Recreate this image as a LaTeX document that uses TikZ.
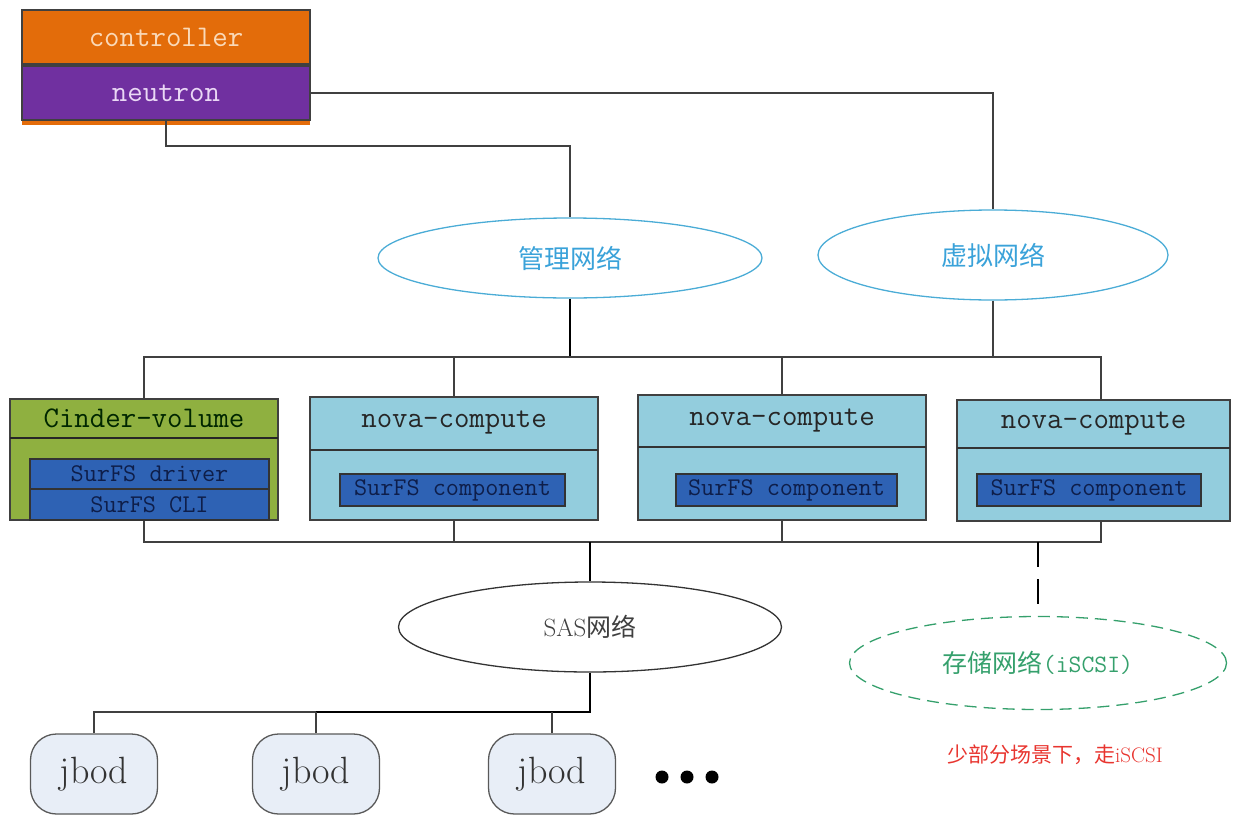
\documentclass[tikz,border=0pt]{standalone}
\usepackage{fontspec}
\newfontfamily\cjk{Noto Sans CJK SC}
\usetikzlibrary{shapes.geometric}

\definecolor{ctrlorange}{HTML}{E36C0A}
\definecolor{ctrltext}{HTML}{FAD9B8}
\definecolor{neupurple}{HTML}{7030A0}
\definecolor{neutext}{HTML}{EAD8F5}
\definecolor{cindergreen}{HTML}{8FB040}
\definecolor{novablue}{HTML}{93CDDD}
\definecolor{surfsblue}{HTML}{2E62B4}
\definecolor{surfstext}{HTML}{0E1E4A}
\definecolor{netline}{HTML}{4BACD6}
\definecolor{nettext}{HTML}{3AA2D9}
\definecolor{iscsigreen}{HTML}{35A06C}
\definecolor{notered}{HTML}{E8352F}
\definecolor{jbodfill}{HTML}{E8EEF7}

\begin{document}
\begin{tikzpicture}[x=1pt,y=-1pt,
    link/.style={draw=black!75,line width=1.5pt},
    trunk/.style={draw=black,line width=2.6pt},
    hostbox/.style={rectangle,draw=black!75,line width=1.3pt,inner sep=0pt},
    headtext/.style={font=\fontsize{30}{30}\selectfont\ttfamily},
    surfs/.style={rectangle,draw=black!80,line width=1.2pt,fill=surfsblue,inner sep=0pt,
        text=surfstext,font=\fontsize{25.5}{26}\selectfont\ttfamily},
    net/.style={ellipse,draw=netline,line width=1.3pt,inner sep=0pt,text=nettext,
        font=\fontsize{26}{26}\selectfont\cjk},
    jbod/.style={rectangle,rounded corners=26pt,draw=black!65,line width=1.3pt,fill=jbodfill,
        minimum width=127,minimum height=80,inner sep=0pt,text=black!80,
        font=\fontsize{38}{38}\selectfont}]
\useasboundingbox (0,0) rectangle (1233,816);

% controller / neutron
\fill[ctrlorange] (22,112) rectangle (310,125);
\node[hostbox,fill=ctrlorange,minimum width=288,minimum height=54,text=ctrltext,headtext] (ctrl) at (166,37) {controller};
\node[hostbox,fill=neupurple,minimum width=288,minimum height=54,text=neutext,headtext] (neu) at (166,93) {neutron};

% networks
\node[net,minimum width=384,minimum height=80] (mgmt) at (570,258) {管理网络};
\node[net,minimum width=350,minimum height=90] (virt) at (993,255) {虚拟网络};

% cinder-volume
\node[hostbox,fill=cindergreen,minimum width=268,minimum height=121] (cinder) at (144,459.5) {};
\draw[black!85,line width=1.3pt] (10,438) -- (278,438);
\node[headtext,text=black!85!green] (cindertitle) at (144,418) {Cinder-volume};
\node[surfs,minimum width=239,minimum height=30] (drv) at (149.5,474) {SurFS driver};
\node[surfs,minimum width=239,minimum height=31] (cli) at (149.5,504.5) {SurFS CLI};

% nova-compute hosts
\node[hostbox,fill=novablue,minimum width=288,minimum height=123] (nova1) at (454,458.5) {};
\draw[black!80,line width=1.3pt] (310,450) -- (598,450);
\node[headtext,text=black!85] (nova1title) at (454,423) {nova-compute};
\node[surfs,minimum width=225,minimum height=32] (comp1) at (452.5,490) {SurFS component};

\node[hostbox,fill=novablue,minimum width=288,minimum height=125] (nova2) at (782,457.5) {};
\draw[black!80,line width=1.3pt] (638,447) -- (926,447);
\node[headtext,text=black!85] (nova2title) at (782,421) {nova-compute};
\node[surfs,minimum width=221,minimum height=32] (comp2) at (786.5,490) {SurFS component};

\node[hostbox,fill=novablue,minimum width=273,minimum height=121] (nova3) at (1093.5,460.5) {};
\draw[black!80,line width=1.3pt] (957,448) -- (1230,448);
\node[headtext,text=black!85] (nova3title) at (1093.5,424) {nova-compute};
\node[surfs,minimum width=224,minimum height=32] (comp3) at (1089,490) {SurFS component};

% storage networks
\node[ellipse,draw=black!80,line width=1.3pt,inner sep=0pt,minimum width=383,minimum height=90,
    text=black!75,font=\fontsize{25}{25}\selectfont] (sas) at (590,627) {SAS{\cjk 网络}};
\node[ellipse,draw=iscsigreen,dashed,dash pattern=on 12pt off 7pt,line width=1.3pt,inner sep=0pt,
    minimum width=377,minimum height=93,text=iscsigreen,font=\fontsize{25}{25}\selectfont\cjk] (iscsi) at (1038,663) {存储网络{\ttfamily(iSCSI)}};
\node[text=notered,font=\fontsize{21}{21}\selectfont\cjk] (note) at (1055,755) {少部分场景下，走{\rmfamily iSCSI}};

% jbods
\node[jbod] (jbod1) at (94,774) {jbod};
\node[jbod] (jbod2) at (316,774) {jbod};
\node[jbod] (jbod3) at (552,774) {jbod};
\foreach \x in {662,687,712}
    \fill (\x,777) circle (6.5pt);

% links to the top
\coordinate (mgmtbend) at (166,146);
\coordinate (topbus) at (0,357);
\coordinate (lowbus) at (0,542);
\coordinate (jbodbus) at (0,712);
\coordinate (nova3tap) at (1101,400);
\draw[link] (neu.east) -| (virt.north);
\draw[link] (neu.south) -- ++(0,5) -- (mgmtbend) -| (mgmt.north);
\draw[trunk] (mgmt.south) -- (mgmt.south |- topbus);
\draw[link] (virt.south) -- (virt.south |- topbus);

% management bus
\draw[link] (cinder.north) -- (cinder.north |- topbus) -- (nova3tap |- topbus) -- (nova3tap);
\foreach \n in {nova1,nova2}
    \draw[link] (\n.north) -- (\n.north |- topbus);

% sas bus
\coordinate (nova3low) at (1101,521);
\draw[link] (cinder.south) -- (cinder.south |- lowbus) -- (nova3low |- lowbus) -- (nova3low);
\foreach \n in {nova1,nova2}
    \draw[link] (\n.south) -- (\n.south |- lowbus);
\draw[trunk] (sas.north |- lowbus) -- (sas.north);
\draw[trunk] (sas.south) -- (sas.south |- jbodbus) -- (jbod2.north |- jbodbus);
\draw[link] (jbod2.north |- jbodbus) -- (jbod1.north |- jbodbus) -- (jbod1.north);
\foreach \n in {jbod2,jbod3}
    \draw[link] (\n.north) -- (\n.north |- jbodbus);

% iscsi, dashed
\draw[black,line width=1.5pt,dash pattern=on 25pt off 12pt] (iscsi.north |- lowbus) -- (iscsi.north);
\end{tikzpicture}
\end{document}
